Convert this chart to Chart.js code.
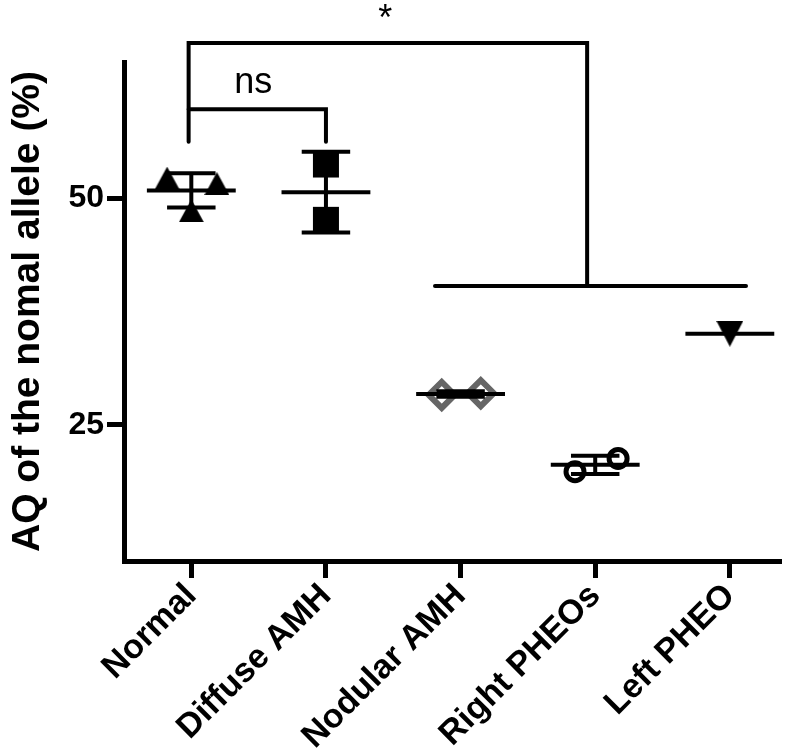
<!DOCTYPE html>
<html>
<head>
<meta charset="utf-8">
<script src="https://cdn.jsdelivr.net/npm/chart.js@4.4.1/dist/chart.umd.min.js"></script>
<style>
  html, body { margin: 0; padding: 0; background: #fff; }
  #wrap { width: 800px; height: 756px; }
</style>
</head>
<body>
<div id="wrap"><canvas id="aqChart" width="800" height="756"></canvas></div>
<script>
// Categories and values
const categories = ['Normal', 'Diffuse AMH', 'Nodular AMH', 'Right PHEOs', 'Left PHEO'];
const normalValues = [52.2, 51.6, 48.6];
const diffuseValues = [53.7, 47.6];
const nodularValues = [28.3, 28.5];
const rightValues = [19.85, 21.3];
const leftValues = [35.05];
// spread of overlapping points, in category units
const normalJitter = [-0.18, 0.19, 0.0];
const diffuseJitter = [0, 0];
const nodularJitter = [-0.14, 0.15];
const rightJitter = [-0.15, 0.17];
const leftJitter = [0];
// mean and SD per group
const groupMeans = [50.85, 50.65, 28.4, 20.6, 35.05];
const groupSD = [1.9, 4.45, 0.3, 1.0, 0];
const yTicks = [25, 50];

// significance brackets (x in category units, y in %)
const brackets = [
    [[-0.02, 56.2], [-0.02, 67.1], [2.94, 67.1], [2.94, 40.3]],
    [[-0.02, 59.8], [1.0, 59.8], [1.0, 56.2]],
    [[1.81, 40.3], [4.12, 40.3]]
];
const bracketLabels = [
    { text: 'ns', x: 0.46, y: 61.6 },
    { text: '*', x: 1.44, y: 68.5 }
];

const FONT = "'Liberation Sans', Arial, Helvetica, sans-serif";

function toPoints(values, jitter, idx) {
    return values.map((v, k) => ({ x: idx + jitter[k], y: v }));
}

// small canvases for triangles so they sit centred like the original symbols
function makeTriangle(w, h, down) {
    const c = document.createElement('canvas');
    c.width = w;
    c.height = h;
    const g = c.getContext('2d');
    g.fillStyle = '#000';
    g.beginPath();
    if (down) {
        g.moveTo(0, 0); g.lineTo(w, 0); g.lineTo(w / 2, h);
    } else {
        g.moveTo(w / 2, 0); g.lineTo(w, h); g.lineTo(0, h);
    }
    g.closePath();
    g.fill();
    return c;
}
const triUp = makeTriangle(25, 23, false);
const triDown = makeTriangle(27, 26, true);

const statsPlugin = {
    id: 'stats',
    afterDatasetsDraw(chart) {
        const { ctx, scales: { x, y } } = chart;
        const meanHalf = 0.33, capHalf = 0.18;
        ctx.save();
        ctx.strokeStyle = '#000';
        ctx.lineWidth = 4;
        ctx.lineCap = 'butt';
        groupMeans.forEach((m, i) => {
            const cx = x.getPixelForValue(i);
            const my = y.getPixelForValue(m);
            ctx.beginPath();
            ctx.moveTo(x.getPixelForValue(i - meanHalf), my);
            ctx.lineTo(x.getPixelForValue(i + meanHalf), my);
            ctx.stroke();
            if (groupSD[i] > 0) {
                const top = y.getPixelForValue(m + groupSD[i]);
                const bot = y.getPixelForValue(m - groupSD[i]);
                ctx.beginPath();
                ctx.moveTo(cx, top); ctx.lineTo(cx, bot);
                ctx.moveTo(x.getPixelForValue(i - capHalf), top);
                ctx.lineTo(x.getPixelForValue(i + capHalf), top);
                ctx.moveTo(x.getPixelForValue(i - capHalf), bot);
                ctx.lineTo(x.getPixelForValue(i + capHalf), bot);
                ctx.stroke();
            }
        });
        ctx.restore();
    },
    afterDraw(chart) {
        const { ctx, scales: { x, y } } = chart;
        ctx.save();
        ctx.strokeStyle = '#000';
        ctx.lineWidth = 4;
        ctx.lineCap = 'round';
        ctx.lineJoin = 'miter';
        brackets.forEach(path => {
            ctx.beginPath();
            path.forEach((p, k) => {
                const px = x.getPixelForValue(p[0]);
                const py = y.getPixelForValue(p[1]);
                if (k === 0) ctx.moveTo(px, py); else ctx.lineTo(px, py);
            });
            ctx.stroke();
        });
        ctx.fillStyle = '#000';
        ctx.font = '36px ' + FONT;
        ctx.textAlign = 'center';
        ctx.textBaseline = 'alphabetic';
        bracketLabels.forEach(l => {
            ctx.fillText(l.text, x.getPixelForValue(l.x), y.getPixelForValue(l.y));
        });
        ctx.restore();
    }
};

const ctx = document.getElementById('aqChart').getContext('2d');
const chart = new Chart(ctx, {
    type: 'scatter',
    data: {
        datasets: [
            {
                label: categories[0],
                data: toPoints(normalValues, normalJitter, 0),
                pointStyle: triUp
            },
            {
                label: categories[1],
                data: toPoints(diffuseValues, diffuseJitter, 1),
                pointStyle: 'rect',
                pointRadius: 18.4,
                backgroundColor: '#000',
                borderWidth: 0
            },
            {
                label: categories[2],
                data: toPoints(nodularValues, nodularJitter, 2),
                pointStyle: 'rectRot',
                pointRadius: 13,
                backgroundColor: 'rgba(0,0,0,0)',
                borderColor: '#666',
                borderWidth: 6
            },
            {
                label: categories[3],
                data: toPoints(rightValues, rightJitter, 3),
                pointStyle: 'circle',
                pointRadius: 9,
                backgroundColor: 'rgba(0,0,0,0)',
                borderColor: '#000',
                borderWidth: 5
            },
            {
                label: categories[4],
                data: toPoints(leftValues, leftJitter, 4),
                pointStyle: triDown
            }
        ]
    },
    options: {
        responsive: false,
        animation: false,
        events: [],
        layout: { padding: { top: 62, right: 17, bottom: 0, left: 0 } },
        plugins: {
            legend: { display: false },
            tooltip: { enabled: false }
        },
        scales: {
            x: {
                type: 'linear',
                min: -0.5,
                max: 4.38,
                afterBuildTicks: scale => {
                    scale.ticks = categories.map((c, i) => ({ value: i }));
                },
                afterFit: scale => { scale.height = 195; },
                grid: {
                    drawOnChartArea: false,
                    drawTicks: true,
                    tickLength: 17,
                    tickWidth: 5,
                    color: '#000'
                },
                border: { display: true, color: '#000', width: 5 },
                ticks: {
                    autoSkip: false,
                    minRotation: 45,
                    maxRotation: 45,
                    padding: -2,
                    color: '#000',
                    font: { family: FONT, size: 34, weight: 'bold' },
                    callback: value => categories[value]
                }
            },
            y: {
                min: 10,
                max: 65,
                afterBuildTicks: scale => {
                    scale.ticks = yTicks.map(v => ({ value: v }));
                },
                afterFit: scale => { scale.width = 124; },
                grid: {
                    drawOnChartArea: false,
                    drawTicks: true,
                    tickLength: 17,
                    tickWidth: 5,
                    color: '#000'
                },
                border: { display: true, color: '#000', width: 5 },
                ticks: {
                    padding: 3,
                    color: '#000',
                    font: { family: FONT, size: 32, weight: 'bold' }
                },
                title: {
                    display: true,
                    text: 'AQ of the nomal allele (%)',
                    color: '#000',
                    padding: { top: 5, bottom: 0 },
                    font: { family: FONT, size: 39, weight: 'bold' }
                }
            }
        }
    },
    plugins: [statsPlugin]
});
</script>
</body>
</html>
